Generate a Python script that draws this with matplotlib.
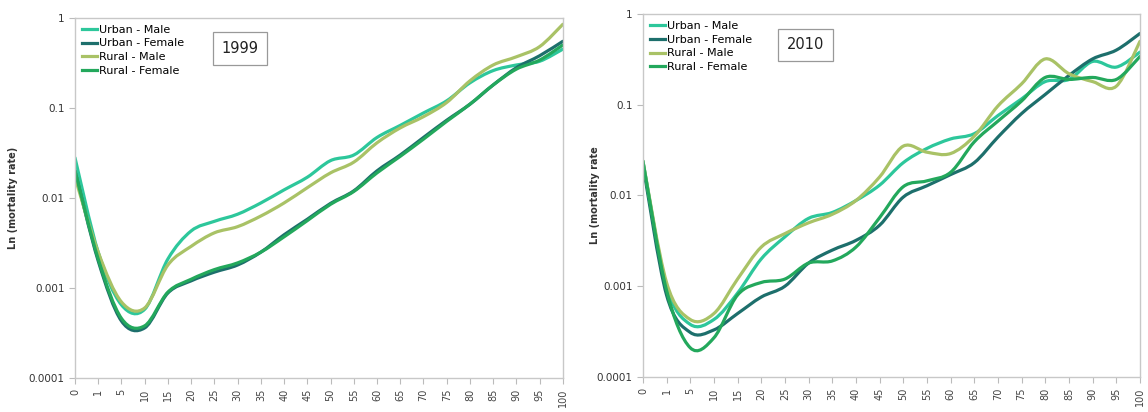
import numpy as np
import matplotlib
matplotlib.use("Agg")
import matplotlib.pyplot as plt
from matplotlib.path import Path
from matplotlib.patches import PathPatch
from matplotlib.lines import Line2D

AGES = ["0", "1", "5", "10", "15", "20", "25", "30", "35", "40", "45", "50",
        "55", "60", "65", "70", "75", "80", "85", "90", "95", "100"]

# 1999 mortality rates by age group
um_1999 = [0.028, 0.0025, 0.00065, 0.00058, 0.0021, 0.0043, 0.0055, 0.0066, 0.0088, 0.0123, 0.017,
           0.026, 0.030, 0.047, 0.064, 0.088, 0.12, 0.19, 0.26, 0.30, 0.33, 0.45]
uf_1999 = [0.020, 0.0020, 0.00043, 0.00036, 0.00088, 0.0012, 0.0015, 0.0018, 0.0025, 0.0039, 0.0058,
           0.0087, 0.012, 0.020, 0.030, 0.047, 0.073, 0.11, 0.18, 0.28, 0.38, 0.55]
rm_1999 = [0.017, 0.0025, 0.0007, 0.0006, 0.0018, 0.0029, 0.0041, 0.0048, 0.0063, 0.0088, 0.013,
           0.019, 0.025, 0.041, 0.060, 0.080, 0.115, 0.20, 0.30, 0.37, 0.48, 0.85]
rf_1999 = [0.020, 0.0021, 0.00046, 0.00038, 0.0009, 0.00125, 0.0016, 0.0019, 0.0025, 0.0037, 0.0056,
           0.0085, 0.0118, 0.019, 0.029, 0.045, 0.071, 0.11, 0.18, 0.27, 0.34, 0.50]

# 2010 mortality rates by age group
um_2010 = [0.024, 0.0010, 0.00038, 0.00043, 0.00084, 0.0020, 0.0035, 0.0056, 0.0065, 0.0088, 0.013,
           0.023, 0.033, 0.042, 0.048, 0.076, 0.116, 0.18, 0.19, 0.30, 0.26, 0.38]
uf_2010 = [0.022, 0.0008, 0.00031, 0.00033, 0.0005, 0.00076, 0.0010, 0.0018, 0.0025, 0.0032, 0.0047,
           0.0096, 0.0128, 0.017, 0.023, 0.044, 0.08, 0.13, 0.21, 0.32, 0.40, 0.61]
rm_2010 = [0.024, 0.0011, 0.00043, 0.0005, 0.0012, 0.0027, 0.0038, 0.0050, 0.0062, 0.0088, 0.016,
           0.035, 0.030, 0.029, 0.045, 0.097, 0.17, 0.32, 0.22, 0.18, 0.16, 0.50]
rf_2010 = [0.024, 0.0009, 0.00021, 0.00027, 0.0008, 0.0011, 0.0012, 0.0018, 0.0019, 0.0027, 0.0057,
           0.0125, 0.0145, 0.018, 0.039, 0.066, 0.11, 0.20, 0.19, 0.20, 0.19, 0.34]

SERIES = [  # (label, color, 1999, 2010)
    ("Urban - Male",   "#2dc79b", um_1999, um_2010),
    ("Urban - Female", "#1d6f6c", uf_1999, uf_2010),
    ("Rural - Male",   "#a9c266", rm_1999, rm_2010),
    ("Rural - Female", "#23a85c", rf_1999, rf_2010),
]


def smooth_path(vals):
    """Smoothed line through the points (Catmull-Rom as cubic Beziers,
    built in log space so it looks right on the log axis)."""
    x = np.arange(len(vals), dtype=float)
    y = np.log10(vals)
    n = len(x)
    verts = [(x[0], y[0])]
    codes = [Path.MOVETO]
    for i in range(n - 1):
        p0 = (x[max(i - 1, 0)], y[max(i - 1, 0)])
        p1 = (x[i], y[i])
        p2 = (x[i + 1], y[i + 1])
        p3 = (x[min(i + 2, n - 1)], y[min(i + 2, n - 1)])
        c1 = (p1[0] + (p2[0] - p0[0]) / 6, p1[1] + (p2[1] - p0[1]) / 6)
        c2 = (p2[0] - (p3[0] - p1[0]) / 6, p2[1] - (p3[1] - p1[1]) / 6)
        verts += [c1, c2, p2]
        codes += [Path.CURVE4] * 3
    verts = [(vx, 10 ** vy) for vx, vy in verts]
    return Path(verts, codes)


fig = plt.figure(figsize=(11.48, 4.12), dpi=100)
ax1 = fig.add_axes([0.0653, 0.0825, 0.425, 0.874])
ax2 = fig.add_axes([0.560, 0.085, 0.433, 0.881])

PANELS = [  # (axes, year, series column, y label, label x, year box x)
    (ax1, "1999", 2, "Ln (mortality rate)", -0.117, 0.30),
    (ax2, "2010", 3, "Ln (mortality rate", -0.087, 0.29),
]

for ax, year, idx, ylab, lab_x, box_x in PANELS:
    for s in SERIES:
        ax.add_patch(PathPatch(smooth_path(s[idx]), fill=False, edgecolor=s[1],
                               lw=2.3, capstyle="round", joinstyle="round"))
    ax.set_yscale("log")
    ax.set_ylim(1e-4, 1)
    ax.set_xlim(0, len(AGES) - 1)
    ax.set_xticks(range(len(AGES)))
    ax.set_xticklabels(AGES, rotation=90, fontsize=7, color="#444444")
    ax.set_yticks([1e-4, 1e-3, 1e-2, 1e-1, 1])
    ax.set_yticklabels(["0.0001", "0.001", "0.01", "0.1", "1"], fontsize=7.5, color="#333333")
    ax.yaxis.set_minor_locator(matplotlib.ticker.NullLocator())
    ax.tick_params(axis="both", length=4, color="#bbbbbb", width=0.8)
    for sp in ax.spines.values():
        sp.set_color("#c8c8c8")
        sp.set_linewidth(1.0)
    ax.set_ylabel(ylab, fontsize=7, fontweight="bold", color="#333333")
    ax.yaxis.set_label_coords(lab_x, 0.5)
    handles = [Line2D([], [], color=s[1], lw=2.3) for s in SERIES]
    ax.legend(handles, [s[0] for s in SERIES], loc="upper left", frameon=False,
              fontsize=8, handlelength=1.4, handletextpad=0.15, labelspacing=0.35,
              borderaxespad=0.2, bbox_to_anchor=(0.0, 1.0))
    ax.text(box_x, 0.915, year, transform=ax.transAxes,
            fontsize=10.5, ha="left", va="center", color="#222222",
            bbox=dict(boxstyle="square,pad=0.6", fc="white", ec="#999999", lw=0.9))

fig.savefig("out.png", dpi=100)
